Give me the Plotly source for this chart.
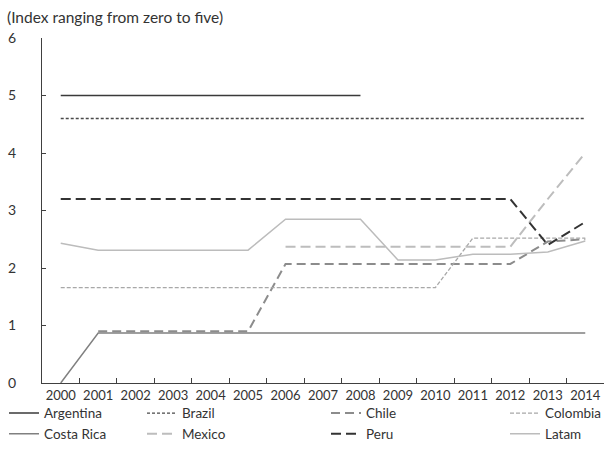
import plotly.graph_objects as go

years = [str(y) for y in range(2000, 2015)]
argentina = [5.0] * 9 + [None] * 6
brazil = [4.6] * 15
chile = [None, 0.9, 0.9, 0.9, 0.9, 0.9, 2.07, 2.07, 2.07, 2.07, 2.07, 2.07, 2.07, 2.46, 2.5]
colombia = [1.66] * 11 + [2.52] * 4
costa_rica = [0.0] + [0.87] * 14
mexico = [None] * 6 + [2.37] * 7 + [3.2, 4.0]
peru = [3.2] * 13 + [2.4, 2.8]
latam = [2.43, 2.31, 2.31, 2.31, 2.31, 2.31, 2.85, 2.85, 2.85, 2.14, 2.14, 2.24, 2.24, 2.28, 2.47]

series = [
    ("Argentina", argentina, "#3a3a3a", "solid", 1.5, "legend"),
    ("Brazil", brazil, "#4a4a4a", "3px,2px", 1.3, "legend2"),
    ("Chile", chile, "#8c8c8c", "9px,5px", 2, "legend3"),
    ("Colombia", colombia, "#a8a8a8", "4px,2px", 1.3, "legend4"),
    ("Costa Rica", costa_rica, "#808080", "solid", 1.5, "legend"),
    ("Mexico", mexico, "#bdbdbd", "10px,5px", 2, "legend2"),
    ("Peru", peru, "#333333", "10px,5px", 2, "legend3"),
    ("Latam", latam, "#bcbcbc", "solid", 1.5, "legend4"),
]

fig = go.Figure()
for name, vals, color, dash, w, lg in series:
    fig.add_trace(go.Scatter(x=years, y=vals, name=name, mode="lines",
                             line=dict(color=color, dash=dash, width=w),
                             legend=lg, connectgaps=False))

FAM = "Lato, Open Sans, sans-serif"
font = dict(family=FAM, size=14, color="#333333")
xfont = dict(family=FAM, size=13, color="#333333")
lfont = dict(family=FAM, size=13.5, color="#333333")
titlefont = dict(family=FAM, size=15.5, color="#333333")
PW = 562
px0 = -42 / PW

def lg(xpix):
    return dict(x=px0 + xpix / PW, y=-0.043, xanchor="left", yanchor="top",
                orientation="v", font=lfont, bgcolor="rgba(0,0,0,0)",
                tracegroupgap=0, itemwidth=30)

fig.update_layout(
    width=614, height=452,
    margin=dict(l=42, r=10, t=38, b=69, autoexpand=False),
    paper_bgcolor="white", plot_bgcolor="white",
    font=font,
    showlegend=True,
    legend=lg(4), legend2=lg(142), legend3=lg(326), legend4=lg(505),
    annotations=[dict(text="(Index ranging from zero to five)", xref="paper", yref="paper",
                      x=px0 + 5 / PW, y=1, yshift=21, xanchor="left", yanchor="middle",
                      showarrow=False, font=titlefont)],
)
fig.update_xaxes(type="category", range=[-0.5, 14.5], tickson="boundaries",
                 ticks="inside", ticklen=5, tickcolor="#404040", tickangle=0,
                 showline=True, linecolor="#404040", linewidth=1,
                 showgrid=False, zeroline=False, tickfont=xfont)
fig.update_yaxes(range=[0, 6], dtick=1, ticks="inside", ticklen=4, tickcolor="#404040",
                 showline=True, linecolor="#404040", linewidth=1,
                 showgrid=False, zeroline=False, tickfont=font, ticklabelstandoff=22)

fig.write_html("out.html", post_script="document.body.style.margin='0';",
               config={"displayModeBar": False})
